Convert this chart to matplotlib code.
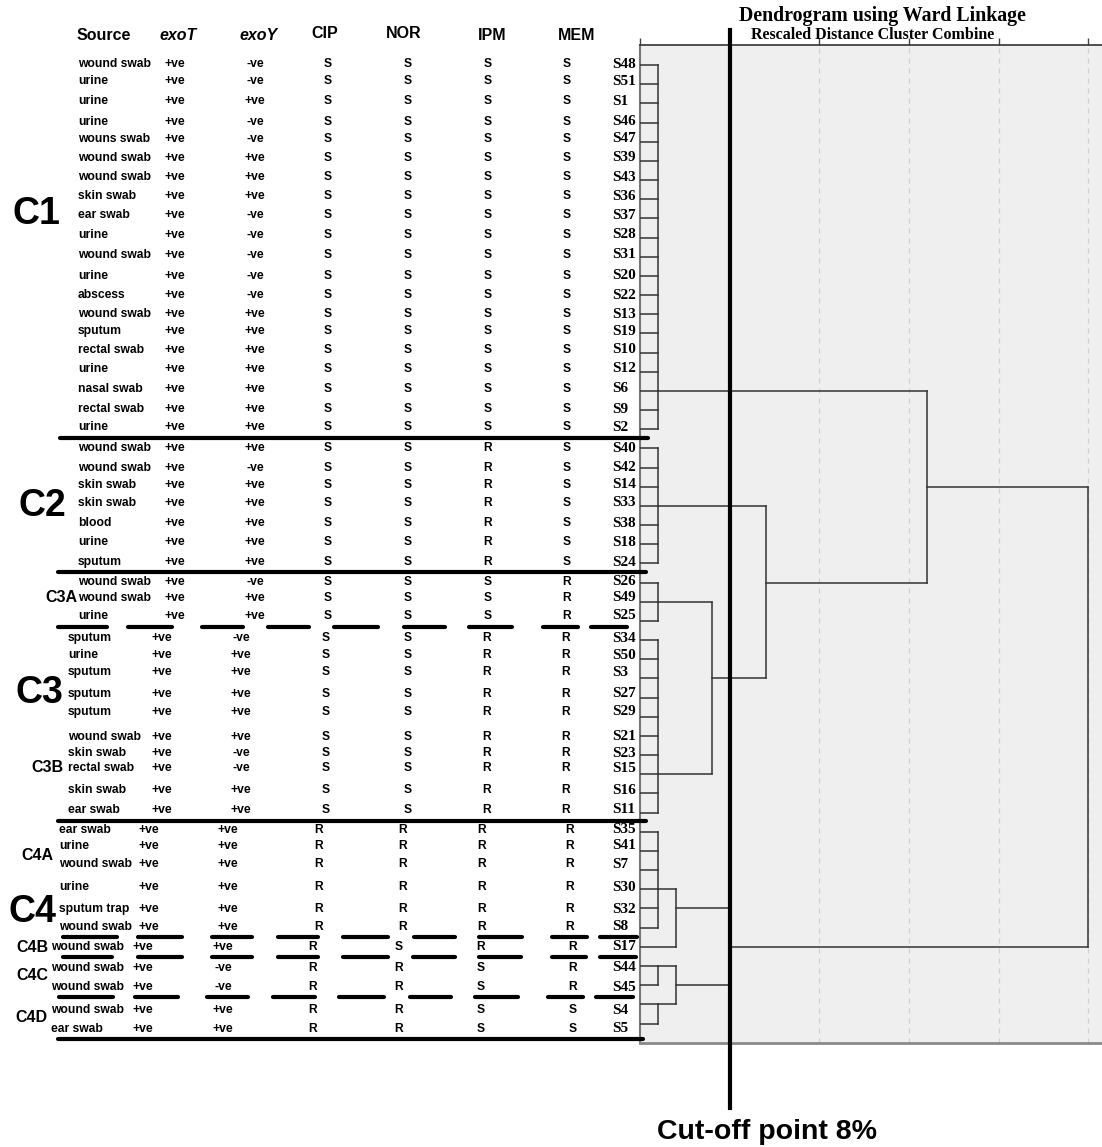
import matplotlib
matplotlib.use("Agg")
import matplotlib.pyplot as plt
from matplotlib import font_manager

# ---------------- data ----------------
samples = ("S48 S51 S1 S46 S47 S39 S43 S36 S37 S28 S31 S20 S22 S13 S19 S10 S12 S6 S9 S2 "
           "S40 S42 S14 S33 S38 S18 S24 "
           "S26 S49 S25 "
           "S34 S50 S3 S27 S29 S21 S23 S15 S16 S11 "
           "S35 S41 S7 S30 S32 S8 "
           "S17 S44 S45 S4 S5").split()

sources = ["wound swab", "urine", "urine", "urine", "wouns swab", "wound swab", "wound swab",
           "skin swab", "ear swab", "urine", "wound swab", "urine", "abscess", "wound swab",
           "sputum", "rectal swab", "urine", "nasal swab", "rectal swab", "urine",
           "wound swab", "wound swab", "skin swab", "skin swab", "blood", "urine", "sputum",
           "wound swab", "wound swab", "urine",
           "sputum", "urine", "sputum", "sputum", "sputum", "wound swab", "skin swab",
           "rectal swab", "skin swab", "ear swab",
           "ear swab", "urine", "wound swab", "urine", "sputum trap", "wound swab",
           "wound swab", "wound swab", "wound swab", "wound swab", "ear swab"]

exoT = ("+ve +ve +ve +ve +ve +ve +ve +ve +ve +ve +ve +ve +ve +ve +ve +ve +ve +ve +ve +ve "
        "+ve +ve +ve +ve +ve +ve +ve +ve +ve +ve +ve +ve +ve +ve +ve +ve +ve +ve +ve +ve "
        "+ve +ve +ve +ve +ve +ve +ve +ve +ve +ve +ve").split()
exoY = ("-ve -ve +ve -ve -ve +ve +ve +ve -ve -ve -ve -ve -ve +ve +ve +ve +ve +ve +ve +ve "
        "+ve -ve +ve +ve +ve +ve +ve "
        "-ve +ve +ve "
        "-ve +ve +ve +ve +ve +ve -ve -ve +ve +ve "
        "+ve +ve +ve +ve +ve +ve "
        "+ve -ve -ve +ve +ve").split()
CIP = ("S S S S S S S S S S S S S S S S S S S S S S S S S S S S S S S S S S S S S S S S "
       "R R R R R R R R R R R").split()
NOR = ("S S S S S S S S S S S S S S S S S S S S S S S S S S S S S S S S S S S S S S S S "
       "R R R R R R S R R R R").split()
IPM = ("S S S S S S S S S S S S S S S S S S S S R R R R R R R S S S R R R R R R R R R R "
       "R R R R R R R S S S S").split()
MEM = ("S S S S S S S S S S S S S S S S S S S S S S S S S S S R R R R R R R R R R R R R "
       "R R R R R R R R R S S").split()
headers = ["Source", "exoT", "exoY", "CIP", "NOR", "IPM", "MEM"]

# dendrogram (SPSS rescaled distance 0-25); identical-profile groups first
group_first = [0, 20, 27, 30, 40, 46, 47, 49]
group_last = [19, 26, 29, 39, 45, 46, 48, 50]
group_height = [1, 1, 1, 1, 1, 0, 1, 1]
group_out_row = [17, 23, 28, 37, 43, 46, 47, 49]
merge_left = [4, 6, 2, 1, 0, 8, 12]
merge_right = [5, 7, 3, 10, 11, 9, 13]
merge_height = [2, 2, 4, 7, 16, 5, 25]
merge_out_row = [44, 48, 32, 27, 22, 46, None]
cutoff_distance = 5
distance_ticks = [0, 5, 10, 15, 20, 25]

cluster_names = ["C1", "C2", "C3", "C4"]
subcluster_names = ["C3A", "C3B", "C4A", "C4B", "C4C", "C4D"]

# ---------------- layout ----------------
W, H, DPI = 1102, 1147, 100
fig = plt.figure(figsize=(W / DPI, H / DPI), dpi=DPI)
fig.patch.set_facecolor("white")

names = {f.name for f in font_manager.fontManager.ttflist}
SANS = "Liberation Sans" if "Liberation Sans" in names else "DejaVu Sans"
SERIF = "Liberation Serif" if "Liberation Serif" in names else "DejaVu Serif"

px_per_unit = 448.3 / 25.0
row0, row_px = 65.0, 19.17
ax_left, ax_top, ax_bottom = 640, 45, 1043
y_top = (ax_top - row0) / row_px
y_bot = (ax_bottom - row0) / row_px

# small vertical nudges (pixels) of the table text rows, as typed in the original
row_nudge = [-1, -3, -2, -1, -3, -3, -3, -3, -3, -3,
             -2, 0, 0, 0, -2, -3, -3, -2, -1, -2,
             0, 0, -2, -3, -2, -2, -1,
             -1, -4, -5,
             -2, -4, -6, -4, -5, 1, -2, -6, -3, -3,
             -2, -5, -6, -2, 1, -1,
             0, 2, 2, 6, 5]


def fy(p):
    return 1 - p / H


ax = fig.add_axes([ax_left / W, fy(ax_bottom), (W - ax_left) / W, (ax_bottom - ax_top) / H])
ax.set_xlim(0, (W - ax_left) / px_per_unit)
ax.set_ylim(y_bot, y_top)
ax.set_facecolor("#efefef")
ax.spines["right"].set_visible(False)
ax.spines["top"].set_color("#333333")
ax.spines["top"].set_linewidth(1.2)
ax.spines["left"].set_color("#777777")
ax.spines["left"].set_linewidth(1.5)
ax.spines["bottom"].set_color("#8a8a8a")
ax.spines["bottom"].set_linewidth(2.0)
ax.xaxis.tick_top()
ax.set_xticks(distance_ticks)
ax.set_xticklabels([])
ax.tick_params(axis="x", direction="out", length=5, width=1, color="#444444")
ax.set_yticks([])
for d in distance_ticks[1:]:
    ax.axvline(d, color="#d0d0d0", lw=0.9, ls=(0, (4, 4)), zorder=1)

lc = "#333333"
lw = 1.1
node_h = {}
node_row = {}
for i, (a, b, h, r) in enumerate(zip(group_first, group_last, group_height, group_out_row)):
    if h > 0:
        for k in range(a, b + 1):
            ax.plot([0, h], [k, k], color=lc, lw=lw, zorder=3)
        ax.plot([h, h], [a, b], color=lc, lw=lw, zorder=3)
    node_h[i] = h
    node_row[i] = r
n0 = len(group_first)
for j, (l, rr, h, out) in enumerate(zip(merge_left, merge_right, merge_height, merge_out_row)):
    for c in (l, rr):
        ax.plot([node_h[c], h], [node_row[c], node_row[c]], color=lc, lw=lw, zorder=3)
    ax.plot([h, h], [node_row[l], node_row[rr]], color=lc, lw=lw, zorder=3)
    node_h[n0 + j] = h
    node_row[n0 + j] = out

# cut-off line
span = ax_bottom - ax_top
ax.axvline(cutoff_distance, ymin=(ax_bottom - 1108) / span, ymax=(ax_bottom - 30) / span,
           color="black", lw=3.0, clip_on=False, zorder=5)
ax.text(cutoff_distance + (767 - 729.6) / px_per_unit, (1132 - row0) / row_px,
        "Cut-off point 8%", ha="center", va="center", fontsize=20.5, fontweight="bold",
        family=SANS, clip_on=False)

fig.text(882 / W, fy(16), "Dendrogram using Ward Linkage", ha="center", va="center",
         fontsize=14.3, fontweight="bold", family=SERIF)
fig.text(873 / W, fy(35), "Rescaled Distance Cluster Combine", ha="center", va="center",
         fontsize=11.5, fontweight="bold", family=SERIF)

# ---------------- table ----------------
at = fig.add_axes([0, fy(ax_bottom), ax_left / W, (ax_bottom - ax_top) / H])
at.set_xlim(0, ax_left)
at.set_ylim(y_bot, y_top)
at.axis("off")
at.set_zorder(3)
at.patch.set_visible(False)

hdr_x = [104, 178, 259, 325, 404, 492, 577]
hdr_y = [36, 35, 35, 34, 33, 35, 35]
for t, x, y in zip(headers, hdr_x, hdr_y):
    st = "italic" if t.startswith("exo") else "normal"
    at.text(x, (y - row0) / row_px, t, ha="center", va="center", fontsize=11.5,
            fontweight="bold", style=st, family=SANS)

# column x per block of rows: (first row, src_left, exoT, exoY, CIP, NOR, IPM, MEM)
blocks = [(0, 78, 175, 255, 328, 408, 488, 567),
          (30, 68, 162, 241, 326, 408, 487, 566),
          (40, 59, 149, 228, 319, 403, 482, 570),
          (46, 51, 143, 223, 313, 399, 481, 573)]
fs = 8.7
for i in range(len(samples)):
    blk = [b for b in blocks if b[0] <= i][-1]
    _, sx, tx, yx, cx, nx, ix, mx = blk
    yy = i + row_nudge[i] / row_px
    at.text(sx, yy, sources[i], ha="left", va="center", fontsize=fs, fontweight="bold", family=SANS)
    at.text(tx, yy, exoT[i], ha="center", va="center", fontsize=fs, fontweight="bold", family=SANS)
    at.text(yx, yy, exoY[i], ha="center", va="center", fontsize=fs, fontweight="bold", family=SANS)
    for v, x in zip((CIP[i], NOR[i], IPM[i], MEM[i]), (cx, nx, ix, mx)):
        at.text(x, yy, v, ha="center", va="center", fontsize=fs, fontweight="bold", family=SANS)
    at.text(612, yy, samples[i], ha="left", va="center", fontsize=11, fontweight="bold",
            family=SERIF)

# cluster labels
big_pos = [(36, 214), (42, 506), (39, 693), (32, 912)]
for t, (x, y) in zip(cluster_names, big_pos):
    at.text(x, (y - row0) / row_px, t, ha="center", va="center", fontsize=27,
            fontweight="bold", family=SANS)
small_pos = [(61, 597), (47, 768), (37, 855), (32, 947), (32, 976), (31, 1017)]
for t, (x, y) in zip(subcluster_names, small_pos):
    at.text(x, (y - row0) / row_px, t, ha="center", va="center", fontsize=11.5,
            fontweight="bold", family=SANS)

# separators
solid = [(438, 60, 648), (572, 58, 646), (821, 58, 646), (1039, 58, 643)]
for y, x0, x1 in solid:
    yy = (y - row0) / row_px
    at.plot([x0, x1], [yy, yy], color="black", lw=3.0, solid_capstyle="round", clip_on=False)

dash_lines = [
    (627, [(58, 107), (128, 172), (202, 243), (268, 309), (334, 378), (404, 445), (469, 512), (543, 578), (591, 627)]),
    (937, [(63, 117), (138, 182), (212, 252), (278, 318), (343, 388), (414, 455), (479, 522), (552, 587), (600, 637)]),
    (957, [(63, 112), (138, 182), (212, 252), (278, 318), (343, 388), (413, 455), (479, 521), (552, 586), (600, 636)]),
    (997, [(59, 113), (135, 178), (207, 248), (273, 315), (339, 384), (410, 451), (475, 518), (548, 583), (596, 633)]),
]
for y, segs in dash_lines:
    yy = (y - row0) / row_px
    for x0, x1 in segs:
        at.plot([x0, x1], [yy, yy], color="black", lw=3.0, solid_capstyle="round", clip_on=False)

fig.savefig("out.png", dpi=DPI, facecolor="white")
